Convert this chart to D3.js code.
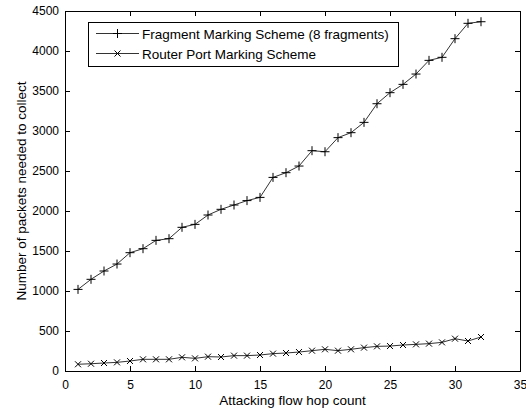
<!DOCTYPE html>
<html>
<head>
<meta charset="utf-8">
<script src="https://cdn.jsdelivr.net/npm/d3@7"></script>
<style>
  html, body { margin: 0; padding: 0; background: #fff; }
  svg { display: block; }
  text { font-family: "Liberation Sans", Arial, Helvetica, sans-serif; fill: #000; }
</style>
</head>
<body>
<svg id="chart" width="526" height="410"></svg>
<script>
const hops = d3.range(1, 33);
const fragmentValues = [1020, 1146, 1250, 1337, 1479, 1529, 1633, 1654, 1796, 1833,
  1950, 2021, 2075, 2130, 2170, 2420, 2479, 2562, 2754, 2741,
  2917, 2979, 3108, 3341, 3479, 3583, 3712, 3883, 3921, 4154, 4346, 4366];
const routerValues = [84, 91, 100, 108, 125, 146, 146, 146, 171, 158,
  179, 175, 192, 192, 200, 217, 225, 237, 254, 271,
  254, 271, 292, 308, 312, 325, 333, 342, 358, 404, 375, 425];
const seriesNames = ["Fragment Marking Scheme (8 fragments)", "Router Port Marking Scheme"];
const xTicks = [0, 5, 10, 15, 20, 25, 30, 35];
const yTicks = [0, 500, 1000, 1500, 2000, 2500, 3000, 3500, 4000, 4500];
const xTitle = "Attacking flow hop count";
const yTitle = "Number of packets needed to collect";

const svg = d3.select("#chart");
const L = 65, R = 520, T = 11, B = 371;
const x = d3.scaleLinear().domain([0, 35]).range([L, R]);
const y = d3.scaleLinear().domain([0, 4500]).range([B, T]);

// axes with inward ticks
const tl = 5;
const gx = svg.append("g").attr("transform", `translate(0,${B})`)
  .call(d3.axisBottom(x).tickValues(xTicks).tickSize(-tl).tickPadding(9).tickFormat(d3.format("d")));
const gxTop = svg.append("g").attr("transform", `translate(0,${T})`)
  .call(d3.axisTop(x).tickValues(xTicks).tickSize(-tl).tickFormat(""));
const gy = svg.append("g").attr("transform", `translate(${L},0)`)
  .call(d3.axisLeft(y).tickValues(yTicks).tickSize(-tl).tickPadding(6).tickFormat(d3.format("d")));
const gyR = svg.append("g").attr("transform", `translate(${R},0)`)
  .call(d3.axisRight(y).tickValues(yTicks).tickSize(-tl).tickFormat(""));
[gx, gxTop, gy, gyR].forEach(g => {
  g.select(".domain").remove();
  g.selectAll(".tick line").attr("stroke", "#000").attr("shape-rendering", "crispEdges");
  g.selectAll("text").style("font-size", "12px").attr("fill", "#000");
});
gx.selectAll(".tick text").attr("dy", "0.71em");

svg.append("rect").attr("x", L).attr("y", T).attr("width", R - L).attr("height", B - T)
  .attr("fill", "none").attr("stroke", "#000").attr("shape-rendering", "crispEdges");

// titles
svg.append("text").attr("x", (L + R) / 2).attr("y", 405).attr("text-anchor", "middle")
  .style("font-size", "13.5px").text(xTitle);
svg.append("text").attr("transform", `translate(26,${(T + B) / 2}) rotate(-90)`)
  .attr("text-anchor", "middle").style("font-size", "13.5px").text(yTitle);

// markers
function plusMarker(g, cx, cy, s) {
  g.append("path").attr("d", `M${cx - s},${cy}H${cx + s}M${cx},${cy - s}V${cy + s}`)
    .attr("stroke", "#000").attr("stroke-width", 1).attr("fill", "none");
}
function xMarker(g, cx, cy, s) {
  g.append("path").attr("d", `M${cx - s},${cy - s}L${cx + s},${cy + s}M${cx - s},${cy + s}L${cx + s},${cy - s}`)
    .attr("stroke", "#000").attr("stroke-width", 1).attr("fill", "none");
}

const line = d3.line().x((d, i) => x(hops[i])).y(d => y(d));
const series = [
  { values: fragmentValues, marker: plusMarker, size: 4.5 },
  { values: routerValues, marker: xMarker, size: 3 }
];
series.forEach(s => {
  svg.append("path").datum(s.values).attr("d", line)
    .attr("fill", "none").attr("stroke", "#333").attr("stroke-width", 1);
  const g = svg.append("g");
  s.values.forEach((v, i) => s.marker(g, x(hops[i]), y(v), s.size));
});

// legend
const lg = svg.append("g");
lg.append("rect").attr("x", 88).attr("y", 22).attr("width", 310).attr("height", 44)
  .attr("fill", "#fff").attr("stroke", "#000").attr("shape-rendering", "crispEdges");
seriesNames.forEach((name, i) => {
  const cy = 33.5 + i * 20;
  lg.append("line").attr("x1", 96).attr("x2", 139).attr("y1", cy).attr("y2", cy)
    .attr("stroke", "#333").attr("stroke-width", 1);
  series[i].marker(lg, 117.5, cy, series[i].size);
  lg.append("text").attr("x", 142).attr("y", cy + 5).style("font-size", "13.5px").text(name);
});
</script>
</body>
</html>
